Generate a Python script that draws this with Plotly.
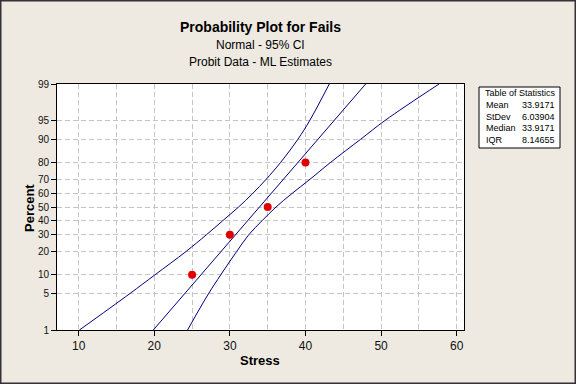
import plotly.graph_objects as go
from statistics import NormalDist

# ---- data ----
stress = [25, 30, 35, 40]
fail_pct = [10, 30, 50, 80]

pct_levels = [1, 5, 10, 20, 30, 40, 50, 60, 70, 80, 90, 95, 99]
ci_lower = [10.1, 16.7, 20.1, 24.2, 26.9, 29.1, 31.15, 33.0, 34.8, 36.7, 39.0, 40.6, 43.15]
ci_upper = [24.4, 27.15, 28.8, 30.9, 32.5, 34.3, 36.1, 38.2, 40.6, 43.3, 47.3, 50.6, 57.67]

fit_pct = [1, 99]
fit_stress = [19.87, 47.96]

y_tick_pct = [1, 5, 10, 20, 30, 40, 50, 60, 70, 80, 90, 95, 99]
x_ticks = [10, 20, 30, 40, 50, 60]

stat_names = ["Mean", "StDev", "Median", "IQR"]
stat_values = ["33.9171", "6.03904", "33.9171", "8.14655"]

nd = NormalDist()
def z(p):
    return nd.inv_cdf(p / 100.0)

LINE = "#000080"
BG = "#EEEAE1"
FONT = "Liberation Sans, Arial, sans-serif"

fig = go.Figure()
fig.add_trace(go.Scatter(x=ci_lower, y=[z(p) for p in pct_levels], mode="lines",
                         line=dict(color=LINE, width=1, shape="spline", smoothing=1.0), hoverinfo="skip"))
fig.add_trace(go.Scatter(x=ci_upper, y=[z(p) for p in pct_levels], mode="lines",
                         line=dict(color=LINE, width=1, shape="spline", smoothing=1.0), hoverinfo="skip"))
fig.add_trace(go.Scatter(x=fit_stress, y=[z(p) for p in fit_pct], mode="lines",
                         line=dict(color=LINE, width=1), hoverinfo="skip"))
fig.add_trace(go.Scatter(x=stress, y=[z(p) for p in fail_pct], mode="markers",
                         marker=dict(color="#E00000", size=8, symbol="circle")))

L, R, T, B = 57, 112, 84, 54
W, H = 576, 384
PW, PH = W - L - R, H - T - B

def px_x(px):
    return (px - L) / PW

def px_y(py):
    return (H - B - py) / PH

grid = dict(showgrid=True, gridcolor="#C4C4C4", griddash="5px,3px", gridwidth=1)

fig.update_layout(
    width=W, height=H, margin=dict(l=L, r=R, t=T, b=B),
    paper_bgcolor=BG, plot_bgcolor="white", showlegend=False,
    font=dict(family=FONT, color="#111111"),
    xaxis=dict(range=[7.13, 60.97], tickvals=x_ticks, ticks="outside", ticklen=5,
               tickcolor="black", showline=True, linecolor="black", linewidth=1, mirror=True,
               zeroline=False, tickfont=dict(size=12, family=FONT),
               minor=dict(dtick=5, tick0=0, showgrid=True, gridcolor="#C4C4C4", griddash="5px,3px", ticks=""),
               **grid),
    yaxis=dict(range=[z(1), z(99)], tickvals=[z(p) for p in y_tick_pct],
               ticktext=[str(p) for p in y_tick_pct], ticks="outside", ticklen=5,
               tickcolor="black", showline=True, linecolor="black", linewidth=1, mirror=True,
               zeroline=False, tickfont=dict(size=10, family=FONT), **grid),
)

ann = [
    dict(text="<b>Probability Plot for Fails</b>", x=0.5, y=px_y(27), size=14),
    dict(text="Normal - 95% CI", x=0.5, y=px_y(45), size=12),
    dict(text="Probit Data - ML Estimates", x=0.5, y=px_y(62), size=12),
]
for a in ann:
    fig.add_annotation(text=a["text"], x=a["x"], y=a["y"], xref="paper", yref="paper",
                       showarrow=False, font=dict(size=a["size"], family=FONT, color="black"),
                       xanchor="center", yanchor="middle")

fig.add_annotation(text="<b>Stress</b>", x=px_x(260), y=px_y(360), xref="paper", yref="paper",
                   showarrow=False, xanchor="center", yanchor="middle",
                   font=dict(size=13, family=FONT, color="black"))
fig.add_annotation(text="<b>Percent</b>", x=px_x(29), y=px_y(208), xref="paper", yref="paper",
                   showarrow=False, textangle=-90, xanchor="center", yanchor="middle",
                   font=dict(size=13, family=FONT, color="black"))

# statistics table
fig.add_shape(type="rect", xref="paper", yref="paper",
              x0=px_x(479), x1=px_x(560), y0=px_y(148), y1=px_y(87),
              fillcolor="white", line=dict(color="black", width=1))
fig.add_annotation(text="Table of Statistics", x=px_x(483), y=px_y(93), xref="paper", yref="paper",
                   showarrow=False, xanchor="left", yanchor="middle",
                   font=dict(size=9, family=FONT, color="black"))
for i, (n, v) in enumerate(zip(stat_names, stat_values)):
    yy = px_y(105 + i * 11.5)
    fig.add_annotation(text=n, x=px_x(484), y=yy, xref="paper", yref="paper", showarrow=False,
                       xanchor="left", yanchor="middle", font=dict(size=9, family=FONT, color="black"))
    fig.add_annotation(text=v, x=px_x(557), y=yy, xref="paper", yref="paper", showarrow=False,
                       xanchor="right", yanchor="middle", font=dict(size=9, family=FONT, color="black"))

# outer frame
fig.add_shape(type="rect", xref="paper", yref="paper",
              x0=px_x(0.75), x1=px_x(575.25), y0=px_y(383.25), y1=px_y(0.75),
              line=dict(color="#333333", width=1.5), fillcolor="rgba(0,0,0,0)", layer="below")

fig.write_html("out.html", config={"displayModeBar": False},
               post_script="document.body.style.margin='0';document.body.style.padding='0';")
